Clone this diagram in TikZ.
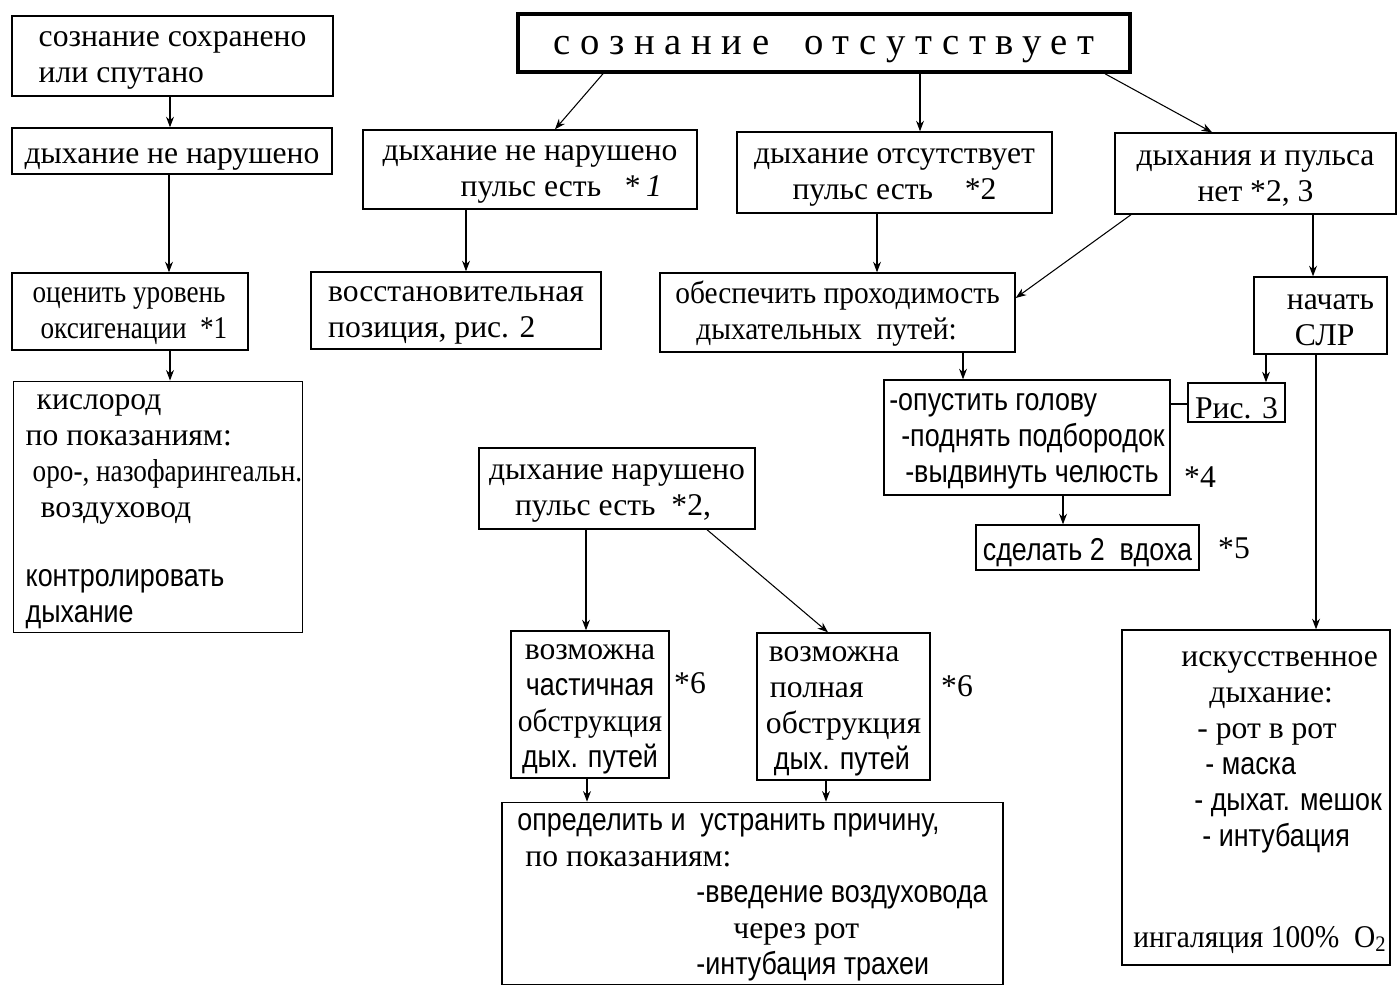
\documentclass[tikz,border=0pt]{standalone}
\usepackage{fontspec}
\setmainfont{Liberation Serif}
\newfontfamily\uzk[FakeStretch=0.85]{Liberation Sans}
\newfontfamily\uzs[FakeStretch=0.93]{Liberation Serif}
\newfontfamily\uzsm[FakeStretch=0.86]{Liberation Serif}
\newfontfamily\razr[LetterSpace=25]{Liberation Serif}
\usetikzlibrary{arrows.meta}
\newcommand{\tekst}{\fontsize{18}{20.5}\selectfont}
\newcommand{\vv}{\rule{0pt}{14pt}}

\tikzset{
  blok/.style={draw, line width=0.8pt, inner sep=2pt, font=\tekst, execute at begin node={\rule{0pt}{18pt}}},
  strel/.style={-{Stealth[length=6pt,width=4.5pt]}, line width=0.6pt},
  zvezd/.style={font=\tekst, inner sep=0pt}
}

\begin{document}
\begin{tikzpicture}[x=0.2mm, y=-0.2mm]
\useasboundingbox (0,0) rectangle (1398,986);
	%Левая колонка
\node[blok, minimum width=64.2mm, minimum height=16mm, align=left] (soh) at (172.5,56) {\vv сознание сохранено\\или спутано};
\node[blok, minimum width=64mm, minimum height=9.2mm] (dyh1) at (172,151) {дыхание не нарушено};
\node[blok, minimum width=47.2mm, minimum height=15.4mm, align=left, font=\tekst\uzsm] (oxy) at (130,311.5) {\vv оценить уровень\\\hspace*{1.6mm}оксигенации~~*1};
\node[blok, inner xsep=0pt, minimum width=57.6mm, minimum height=49.6mm, align=left] (kisl) at (158,507) {\vv\hspace*{4.6mm}кислород\\\hspace*{2.4mm}по показаниям:\\\hspace*{3.8mm}{\uzsm оро-, назофарингеальн.}\\\hspace*{5.4mm}воздуховод\\[19pt]\hspace*{2.4mm}{\uzk контролировать}\\\hspace*{2.4mm}{\uzk дыхание}};
	%Верх
\node[blok, line width=2pt, minimum width=122.4mm, minimum height=11.6mm, font={\razr\fontsize{22}{24}\selectfont}] (top) at (824,43) {сознание\hspace{20pt}отсутствует};
\node[blok, minimum width=66.8mm, minimum height=15.8mm, align=left] (dnn) at (530,169.5) {\vv дыхание не нарушено\\\hspace*{15.6mm}пульс есть~~~*\,\textit{1}};
\node[blok, minimum width=63mm, minimum height=16.2mm, align=center] (dots) at (894.5,172.5) {\vv дыхание отсутствует\\пульс есть\quad *2};
\node[blok, minimum width=56.2mm, minimum height=16.2mm, align=center] (net) at (1255.5,173.5) {\vv дыхания и пульса\\нет *2, 3};
	%Второй ряд
\node[blok, minimum width=58mm, minimum height=15.4mm, align=left] (vost) at (456,310.5) {\vv восстановительная\\позиция, рис. 2};
\node[blok, minimum width=71mm, minimum height=15.8mm, align=left, font=\tekst\uzs] (obesp) at (837.5,312.5) {\vv обеспечить проходимость\\\hspace*{4.2mm}дыхательных~~путей:};
\node[blok, minimum width=26.6mm, minimum height=15.4mm, align=left] (slr) at (1320.5,315.5) {\vv\hspace*{4mm}начать\\\hspace*{5.6mm}СЛР};
	%Дыхательные пути
\node[blok, minimum width=57.2mm, minimum height=23mm, align=left, font=\tekst\uzk] (golova) at (1027,437.5) {\vv -опустить голову\\\hspace*{2.4mm}-поднять подбородок\\\hspace*{3.2mm}-выдвинуть челюсть};
\node[blok, minimum width=19.4mm, minimum height=7.8mm] (ris) at (1236.5,402.5) {Рис. 3};
\node[zvezd] (z4) at (1200,477) {*4};
\node[blok, minimum width=44.6mm, minimum height=7.8mm, font=\tekst\uzk] (vdoh) at (1087.5,547.5) {сделать 2~~вдоха};
\node[zvezd] (z5) at (1234,548) {*5};
	%Нарушено дыхание
\node[blok, minimum width=55.2mm, minimum height=16.2mm, align=left] (narush) at (617,488.5) {\vv дыхание нарушено\\\hspace*{5.2mm}пульс есть~~*2,};
\node[blok, minimum width=31.6mm, minimum height=29.4mm, align=center] (chast) at (590,704.5) {\vv возможна\\{\uzk частичная}\\{\uzs обструкция}\\{\uzk дых. путей}};
\node[zvezd] (z6a) at (690,683) {*6};
\node[blok, minimum width=34.6mm, minimum height=29.4mm, align=left] (poln) at (843.5,706.5) {\vv\hspace*{0.6mm}возможна\\\hspace*{0.8mm}полная\\обструкция\\\hspace*{1.6mm}{\uzk дых. путей}};
\node[zvezd] (z6b) at (957,686) {*6};
\node[blok, minimum width=100.2mm, minimum height=35.8mm, align=left] (opred) at (752.5,893.5) {\vv{\uzk определить и~~устранить причину,}\\\hspace*{1.6mm}по показаниям:\\\hspace*{35.8mm}{\uzk -введение воздуховода}\\\hspace*{43.2mm}через рот\\\hspace*{35.8mm}{\uzk -интубация трахеи}};
	%СЛР
\node[blok, minimum width=53.6mm, minimum height=67mm, align=left] (isk) at (1256,797.5) {\vv\hspace*{11.2mm}искусственное\\\hspace*{16.8mm}дыхание:\\\hspace*{14.4mm}- рот в рот\\\hspace*{16mm}{\uzk - маска}\\\hspace*{13.8mm}{\uzk - дыхат. мешок}\\\hspace*{15.4mm}{\uzk - интубация}\\[37pt]\hspace*{1.6mm}{\uzs ингаляция 100\%~~O\textsubscript{2}}};
	%Стрелки
\draw[strel] (soh.south -| 170,0) -- (dyh1.north -| 170,0);
\draw[strel] (dyh1.south -| 169,0) -- (oxy.north -| 169,0);
\draw[strel] (oxy.south -| 170,0) -- (kisl.north -| 170,0);
\draw[strel] (top.south -| 603,0) -- (dnn.north -| 555,0);
\draw[strel] (top.south -| 920,0) -- (dots.north -| 920,0);
\draw[strel] (top.south -| 1105,0) -- (net.north -| 1212,0);
\draw[strel] (dnn.south -| 466,0) -- (vost.north -| 466,0);
\draw[strel] (dots.south -| 877,0) -- (obesp.north -| 877,0);
\draw[strel] (net.south -| 1131,0) -- (obesp.east |- 0,298);
\draw[strel] (net.south -| 1313,0) -- (slr.north -| 1313,0);
\draw[strel] (obesp.south -| 963,0) -- (golova.north -| 963,0);
\draw[strel] (slr.south -| 1266,0) -- (ris.north -| 1266,0);
\draw[strel] (slr.south -| 1316,0) -- (isk.north -| 1316,0);
\draw[line width=0.6pt] (golova.east |- 0,404) -- (ris.west |- 0,404);
\draw[strel] (golova.south -| 1063,0) -- (vdoh.north -| 1063,0);
\draw[strel] (narush.south -| 586,0) -- (chast.north -| 586,0);
\draw[strel] (narush.south -| 707,0) -- (poln.north -| 828,0);
\draw[strel] (chast.south -| 587,0) -- (opred.north -| 587,0);
\draw[strel] (poln.south -| 826,0) -- (opred.north -| 826,0);
\end{tikzpicture}
\end{document}
